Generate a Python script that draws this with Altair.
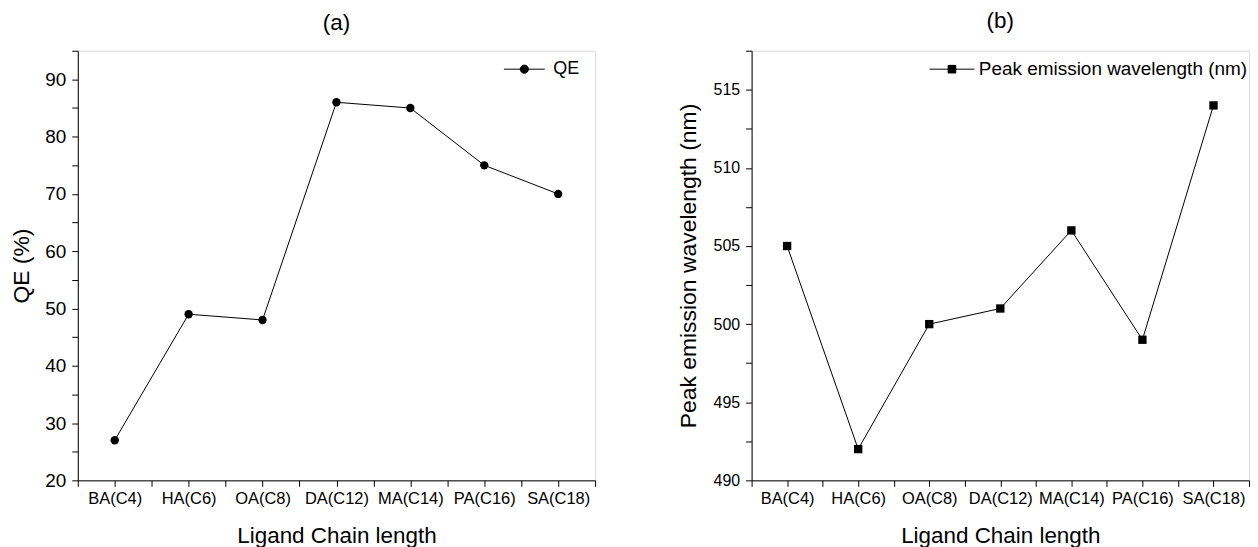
import altair as alt
import pandas as pd

categories = ["BA(C4)", "HA(C6)", "OA(C8)", "DA(C12)", "MA(C14)", "PA(C16)", "SA(C18)"]
qe_values = [27, 49, 48, 86, 85, 75, 70]
peak_values = [505, 492, 500, 501, 506, 499, 514]

df_a = pd.DataFrame({"idx": list(range(len(categories))), "cat": categories,
                     "val": qe_values, "series": ["QE"] * len(categories)})
df_b = pd.DataFrame({"idx": list(range(len(categories))), "cat": categories,
                     "val": peak_values,
                     "series": ["Peak emission wavelength (nm)"] * len(categories)})

FONT = "Liberation Sans"
cat_js = "[" + ",".join("'" + c + "'" for c in categories) + "]"
x_vals = [i / 2 - 0.5 for i in range(2 * len(categories) + 1)]
label_expr = f"datum.value % 1 == 0 ? {cat_js}[datum.value] : ''"

circle_path = "M-1,0H-0.2M0.2,0H1M0.2,0A0.2,0.2 0 1,1 -0.2,0A0.2,0.2 0 1,1 0.2,0Z"
square_path = "M-1,0H-0.17M0.17,0H1M-0.17,-0.17H0.17V0.17H-0.17Z"


def panel(df, title, ytitle, ydomain, yvals, ylabelexpr, shape, sym_path, ylab_size, w,
          ytitle_pad, leg_x, leg_size, leg_font, leg_offset):
    x = alt.X("idx:Q", scale=alt.Scale(domain=[-0.5, len(categories) - 0.5], nice=False, zero=False),
              axis=alt.Axis(values=x_vals, labelExpr=label_expr, title="Ligand Chain length",
                            grid=False, domainColor="black", tickColor="black", tickSize=6,
                            labelColor="black", labelFont=FONT, labelFontSize=16.5,
                            labelPadding=4, titleFont=FONT, titleFontSize=22.5,
                            titleFontWeight="normal", titleColor="black", titlePadding=18,
                            labelFlush=False, labelOverlap=False))
    y = alt.Y("val:Q", scale=alt.Scale(domain=ydomain, nice=False, zero=False),
              axis=alt.Axis(values=yvals, labelExpr=ylabelexpr, title=ytitle, grid=False,
                            domainColor="black", tickColor="black", tickSize=6,
                            labelColor="black", labelFont=FONT, labelFontSize=ylab_size,
                            labelPadding=6, titleFont=FONT, titleFontSize=23,
                            titleFontWeight="normal", titleColor="black",
                            titlePadding=ytitle_pad))
    base = alt.Chart(df)
    line = base.mark_line(color="black", strokeWidth=1).encode(x=x, y=y)
    pts = base.mark_point(filled=True, shape=shape, size=70, opacity=1).encode(
        x=x, y=y,
        color=alt.Color("series:N", scale=alt.Scale(range=["black"]),
                        legend=alt.Legend(title=None, orient="none", legendX=leg_x,
                                          legendY=18 - leg_size ** 0.5 / 2,
                                          symbolType=sym_path, symbolSize=leg_size,
                                          symbolStrokeColor="black", symbolFillColor="black",
                                          symbolStrokeWidth=1, labelFont=FONT,
                                          labelFontSize=leg_font, labelColor="black",
                                          labelOffset=leg_offset, labelLimit=0, padding=0)))
    return alt.layer(line, pts).properties(
        width=w, height=431,
        title=alt.TitleParams(title, font=FONT, fontSize=22.5, fontWeight="normal",
                              color="black", offset=11, dy=-3))


ya_vals = list(range(20, 96, 5))
a = panel(df_a, "(a)", "QE (%)", [20, 95], ya_vals,
          "datum.value % 10 == 0 ? datum.value : ''", "circle", circle_path, 19, 519,
          11, 427, 1681, 18, 8)
yb_vals = [490 + 2.5 * i for i in range(12)]
b = panel(df_b, "(b)", "Peak emission wavelength (nm)", [490, 517.5], yb_vals,
          "datum.value % 5 == 0 ? datum.value : ''", "square", square_path, 16, 499,
          13, 178, 2025, 19, 4)

chart = alt.hconcat(a, b, spacing=80).resolve_scale(color="independent").resolve_legend(
    color="independent").configure_view(
    stroke="black", strokeWidth=1).configure(background="white").properties(
    padding={"left": 2, "top": 0, "right": 0, "bottom": 0})

chart.save("out.html", embed_options={"renderer": "svg", "actions": False})
